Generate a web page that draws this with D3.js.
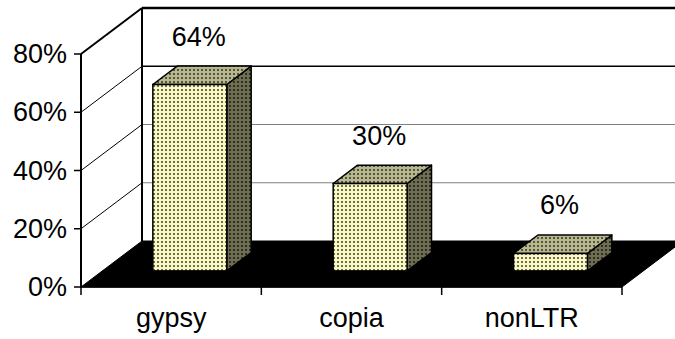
<!DOCTYPE html>
<html>
<head>
<meta charset="utf-8">
<script src="https://cdn.jsdelivr.net/npm/d3@7"></script>
<style>
  html, body { margin: 0; padding: 0; background: #fff; }
  svg { display: block; }
  text { font-family: "Liberation Sans", Arial, sans-serif; fill: #000; }
</style>
</head>
<body>
<svg id="chart" width="675" height="339"></svg>
<script>
// Share of retrotransposon families
const categories = ["gypsy", "copia", "nonLTR"];
const values = [64, 30, 6];
const valueLabels = ["64%", "30%", "6%"];
const tickValues = [0, 20, 40, 60, 80];
const tickLabels = ["0%", "20%", "40%", "60%", "80%"];

const W = 675, H = 339;
const svg = d3.select("#chart");

// Oblique 3-D frame: front plane plus a depth vector
const depth = { x: 61, y: -46 };
const x = d3.scaleBand().domain(categories).range([81, 622]).paddingInner(0).paddingOuter(0);
const y = d3.scaleLinear().domain([0, 80]).range([287, 54]);

const x0 = x.range()[0], x1 = x.range()[1];
const yTop = y(80), yBot = y(0);

// Fill patterns for the bar faces
const defs = svg.append("defs");
function dotPattern(id, bg, dot, size) {
  const p = defs.append("pattern").attr("id", id)
    .attr("patternUnits", "userSpaceOnUse").attr("width", size).attr("height", size);
  p.append("rect").attr("width", size).attr("height", size).attr("fill", bg);
  p.append("rect").attr("x", 1).attr("y", 1).attr("width", 2).attr("height", 2).attr("fill", dot);
}
dotPattern("frontFill", "#f8f8c0", "#6e6e56", 4);
dotPattern("topFill", "#b8b890", "#55553f", 4);
dotPattern("sideFill", "#6e6e52", "#2e2e22", 4);

const pts = a => a.map(p => p.join(",")).join(" ");

// Back wall
svg.append("polygon")
  .attr("points", pts([[x0 + depth.x, yTop + depth.y], [x1 + depth.x, yTop + depth.y],
                       [x1 + depth.x, yBot + depth.y], [x0 + depth.x, yBot + depth.y]]))
  .attr("fill", "#fff");

// Side wall
svg.append("polygon")
  .attr("points", pts([[x0, yBot], [x0, yTop], [x0 + depth.x, yTop + depth.y], [x0 + depth.x, yBot + depth.y]]))
  .attr("fill", "#fff");

// Gridlines on the walls
tickValues.filter(v => v > 0 && v < 80).forEach(v => {
  const yy = y(v);
  svg.append("line")
    .attr("x1", x0).attr("y1", yy).attr("x2", x0 + depth.x).attr("y2", yy + depth.y)
    .attr("stroke", "#000").attr("stroke-width", 1);
  svg.append("line")
    .attr("x1", x0 + depth.x).attr("y1", yy + depth.y).attr("x2", x1 + depth.x).attr("y2", yy + depth.y)
    .attr("stroke", v === 60 ? "#000" : "#808080").attr("stroke-width", v === 60 ? 1.5 : 1);
});

// Wall edges
svg.append("line")
  .attr("x1", x0 + depth.x).attr("y1", yTop + depth.y).attr("x2", x1 + depth.x).attr("y2", yTop + depth.y)
  .attr("stroke", "#000").attr("stroke-width", 2.5);
svg.append("line")
  .attr("x1", x0).attr("y1", yTop).attr("x2", x0 + depth.x).attr("y2", yTop + depth.y)
  .attr("stroke", "#000").attr("stroke-width", 2);
svg.append("line")
  .attr("x1", x0 + depth.x).attr("y1", yTop + depth.y).attr("x2", x0 + depth.x).attr("y2", yBot + depth.y)
  .attr("stroke", "#000").attr("stroke-width", 2);

// Floor
svg.append("polygon")
  .attr("points", pts([[x0, yBot], [x1, yBot], [x1 + depth.x, yBot + depth.y], [x0 + depth.x, yBot + depth.y]]))
  .attr("fill", "#000").attr("stroke", "#000").attr("stroke-width", 1);

// Bars
const front = 0.35, thick = 0.4;
const off = { x: depth.x * front, y: depth.y * front };
const bd = { x: depth.x * thick, y: depth.y * thick };
const bw = x.bandwidth() * 0.41;

const bars = svg.append("g").selectAll("g").data(categories).join("g");
bars.each(function (c, i) {
  const g = d3.select(this);
  const L = x(c) + x.bandwidth() * 0.28 + off.x;
  const R = L + bw;
  const T = y(values[i]) + off.y;
  const B = y(0) + off.y;
  // right side
  g.append("polygon")
    .attr("points", pts([[R, T], [R + bd.x, T + bd.y], [R + bd.x, B + bd.y], [R, B]]))
    .attr("fill", "url(#sideFill)").attr("stroke", "#000").attr("stroke-width", 1.5).attr("stroke-linejoin", "round");
  // top
  g.append("polygon")
    .attr("points", pts([[L, T], [L + bd.x, T + bd.y], [R + bd.x, T + bd.y], [R, T]]))
    .attr("fill", "url(#topFill)").attr("stroke", "#000").attr("stroke-width", 1.5).attr("stroke-linejoin", "round");
  // front
  g.append("rect")
    .attr("x", L).attr("y", T).attr("width", bw).attr("height", B - T)
    .attr("fill", "url(#frontFill)").attr("stroke", "#000").attr("stroke-width", 1.5);
  // value label
  g.append("text")
    .attr("x", L + bw / 2 + 9).attr("y", T - 39)
    .attr("text-anchor", "middle").attr("font-size", 27)
    .text(valueLabels[i]);
});

// Vertical axis
svg.append("line")
  .attr("x1", x0).attr("y1", yTop).attr("x2", x0).attr("y2", yBot + 1)
  .attr("stroke", "#000").attr("stroke-width", 2);
tickValues.forEach((v, i) => {
  svg.append("line")
    .attr("x1", x0 - 7).attr("y1", y(v)).attr("x2", x0).attr("y2", y(v))
    .attr("stroke", "#000").attr("stroke-width", 1.5);
  svg.append("text")
    .attr("x", x0 - 14).attr("y", y(v) + 9)
    .attr("text-anchor", "end").attr("font-size", 27)
    .text(tickLabels[i]);
});

// Category axis
svg.append("line")
  .attr("x1", x0).attr("y1", yBot).attr("x2", x1).attr("y2", yBot)
  .attr("stroke", "#000").attr("stroke-width", 1.5);
[x0, ...categories.map(c => x(c) + x.bandwidth())].forEach(xx => {
  svg.append("line")
    .attr("x1", xx).attr("y1", yBot).attr("x2", xx).attr("y2", yBot + 8)
    .attr("stroke", "#000").attr("stroke-width", 1.5);
});
categories.forEach(c => {
  svg.append("text")
    .attr("x", x(c) + x.bandwidth() / 2).attr("y", 327)
    .attr("text-anchor", "middle").attr("font-size", 27)
    .text(c);
});
</script>
</body>
</html>
